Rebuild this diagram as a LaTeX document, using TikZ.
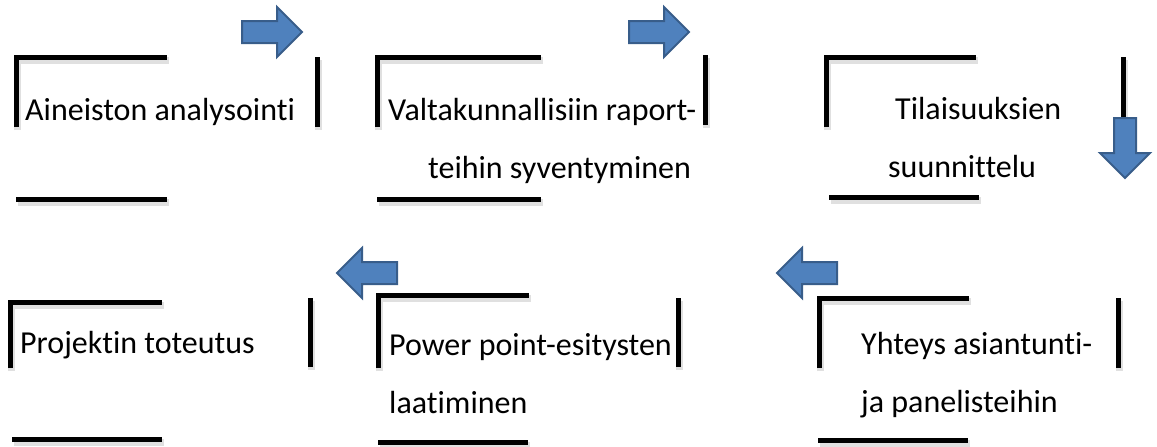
\documentclass[tikz,border=0pt]{standalone}
\usepackage{fontspec}
\setmainfont{Carlito}[Ligatures=CommonOff]
\usepackage{tikz}

\definecolor{arrowfill}{HTML}{4F81BD}
\definecolor{arrowedge}{HTML}{385D8A}

\tikzset{
    bar/.style={line width=5pt, black,
        preaction={draw=black!60, opacity=0.2, line width=7pt,
            transform canvas={shift={(1.5pt,-3pt)}}}},
    phase/.style={font=\fontsize{32pt}{58pt}\selectfont, align=left,
        anchor=base west, inner sep=0pt},
    blockarrow/.pic={
        \draw[fill=arrowfill, draw=arrowedge, line width=2pt]
            (0,-11) -- (35,-11) -- (35,-25) -- (60,0) -- (35,25) -- (35,11) -- (0,11) -- cycle;
    }
}

\begin{document}
\begin{tikzpicture}[x=1pt, y=-1pt]
    \useasboundingbox (0,0) rectangle (1157,447);

    % Upper row of phases (anchor is on the last line)
    \node[phase] (aineisto) at (25,120) {Aineiston analysointi};
    \node[phase] (raportit) at (388,178) {Valtakunnallisiin raport-\\\hspace*{40pt}teihin syventyminen};
    \node[phase] (tilaisuus) at (888,177) {\hspace*{7pt}Tilaisuuksien\\suunnittelu};

    % Lower row of phases
    \node[phase] (toteutus) at (20,353) {Projektin toteutus};
    \node[phase] (esitys) at (389,413) {Power point-esitysten\\laatiminen};
    \node[phase] (yhteys) at (861,412) {Yhteys asiantunti-\\ja panelisteihin};

    % Frames of the upper row
    \draw[bar] (16,127) -- (16,57) -- (167,57);
    \draw[bar] (317,57) -- (317,127);
    \draw[bar] (16,199) -- (167,199);

    \draw[bar] (377,127) -- (377,57) -- (541,57);
    \draw[bar] (705,55) -- (705,125);
    \draw[bar] (377,199) -- (541,199);

    \draw[bar] (826,127) -- (826,57) -- (976,57);
    \draw[bar] (1123,57) -- (1123,125);
    \draw[bar] (829,197) -- (979,197);

    % Frames of the lower row
    \draw[bar] (10,368) -- (10,302) -- (162,302);
    \draw[bar] (310,298) -- (310,367);
    \draw[bar] (12,439) -- (162,439);

    \draw[bar] (378,368) -- (378,295) -- (529,295);
    \draw[bar] (678,298) -- (678,367);
    \draw[bar] (378,442) -- (528,442);

    \draw[bar] (819,368) -- (819,298) -- (969,298);
    \draw[bar] (1118,298) -- (1118,368);
    \draw[bar] (818,440) -- (968,440);

    % Block arrows showing the order
    \pic at (242,32) {blockarrow};
    \pic at (629,32) {blockarrow};
    \pic[rotate=-90] at (1125,118) {blockarrow};
    \pic[rotate=180] at (837,273) {blockarrow};
    \pic[rotate=180] at (397,273) {blockarrow};
\end{tikzpicture}
\end{document}
